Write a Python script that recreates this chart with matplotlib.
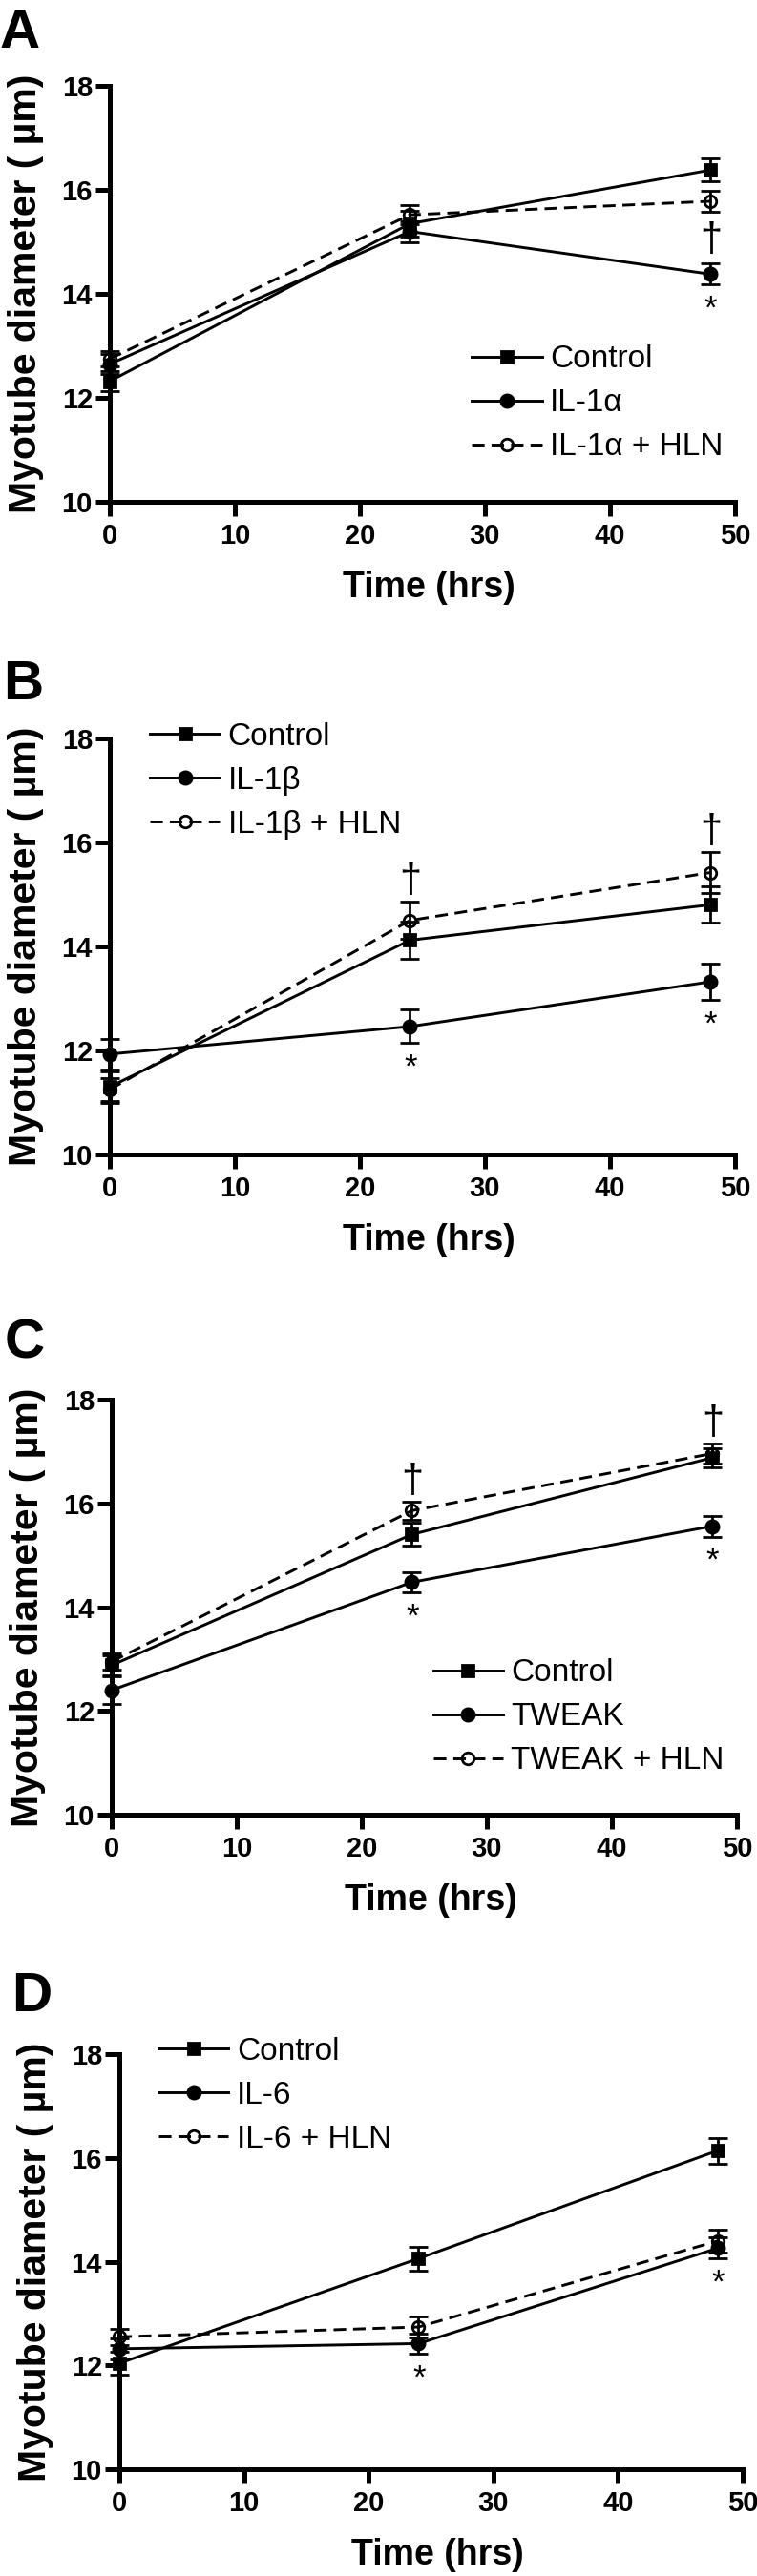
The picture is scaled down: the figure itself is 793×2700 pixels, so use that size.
import matplotlib
matplotlib.use('Agg')
import matplotlib.pyplot as plt

plt.rcParams['font.family'] = ['Liberation Sans', 'DejaVu Sans']

# ---------------- data ----------------
time_hrs = [0, 24, 48]
x_ticks = [0, 10, 20, 30, 40, 50]
y_ticks = [10, 12, 14, 16, 18]

a_labels = ['Control', 'IL-1α', 'IL-1α + HLN']
a_control = [12.32, 15.35, 16.38]
a_control_err = [0.20, 0.25, 0.22]
a_cyto = [12.65, 15.20, 14.38]
a_cyto_err = [0.20, 0.20, 0.20]
a_hln = [12.75, 15.52, 15.78]
a_hln_err = [0.15, 0.18, 0.21]
a_star_idx = [2]
a_dagger_idx = [2]

b_labels = ['Control', 'IL-1β', 'IL-1β + HLN']
b_control = [11.30, 14.12, 14.80]
b_control_err = [0.30, 0.35, 0.35]
b_cyto = [11.93, 12.46, 13.32]
b_cyto_err = [0.29, 0.32, 0.35]
b_hln = [11.25, 14.50, 15.42]
b_hln_err = [0.22, 0.36, 0.40]
b_star_idx = [1, 2]
b_dagger_idx = [1, 2]

c_labels = ['Control', 'TWEAK', 'TWEAK + HLN']
c_control = [12.88, 15.40, 16.88]
c_control_err = [0.20, 0.22, 0.18]
c_cyto = [12.40, 14.48, 15.56]
c_cyto_err = [0.27, 0.20, 0.20]
c_hln = [12.95, 15.86, 16.96]
c_hln_err = [0.15, 0.18, 0.20]
c_star_idx = [1, 2]
c_dagger_idx = [1, 2]

d_labels = ['Control', 'IL-6', 'IL-6 + HLN']
d_control = [12.04, 14.06, 16.14]
d_control_err = [0.22, 0.23, 0.25]
d_cyto = [12.32, 12.42, 14.26]
d_cyto_err = [0.20, 0.20, 0.20]
d_hln = [12.55, 12.74, 14.40]
d_hln_err = [0.15, 0.20, 0.22]
d_star_idx = [1, 2]
d_dagger_idx = []

# ---------------- layout ----------------
W, H = 793, 2700
fig = plt.figure(figsize=(W / 100, H / 100), dpi=100)

panels = [
    dict(letter='A', letter_xy=(0, 50), rect=(115, 770, 90, 526),
         labels=a_labels, means=[a_control, a_cyto, a_hln],
         errs=[a_control_err, a_cyto_err, a_hln_err],
         stars=a_star_idx, daggers=a_dagger_idx, dagger_below=True,
         leg_anchor=(0.579, 0.378)),
    dict(letter='B', letter_xy=(3, 733), rect=(115, 770, 774, 1210),
         labels=b_labels, means=[b_control, b_cyto, b_hln],
         errs=[b_control_err, b_cyto_err, b_hln_err],
         stars=b_star_idx, daggers=b_dagger_idx, dagger_below=False,
         leg_anchor=(0.064, 1.04)),
    dict(letter='C', letter_xy=(5, 1423), rect=(117, 772, 1467, 1902),
         labels=c_labels, means=[c_control, c_cyto, c_hln],
         errs=[c_control_err, c_cyto_err, c_hln_err],
         stars=c_star_idx, daggers=c_dagger_idx, dagger_below=False,
         leg_anchor=(0.514, 0.376)),
    dict(letter='D', letter_xy=(12, 2108), rect=(125, 778, 2153, 2588),
         labels=d_labels, means=[d_control, d_cyto, d_hln],
         errs=[d_control_err, d_cyto_err, d_hln_err],
         stars=d_star_idx, daggers=d_dagger_idx, dagger_below=False,
         leg_anchor=(0.063, 1.042)),
]

styles = [
    dict(linestyle='-', marker='s', markersize=8.5, markerfacecolor='black'),
    dict(linestyle='-', marker='o', markersize=9.5, markerfacecolor='black'),
    dict(linestyle=(0, (4.5, 2.5)), marker='o', markersize=9, markerfacecolor='none'),
]

for p in panels:
    l, r, t, b = p['rect']
    ax = fig.add_axes([l / W, 1 - b / H, (r - l) / W, (b - t) / H])
    handles = []
    for m, e, st in zip(p['means'], p['errs'], styles):
        eb = ax.errorbar(time_hrs, m, yerr=e, color='black', linewidth=2.1,
                         elinewidth=2.0, capsize=7.5, capthick=2.4,
                         markeredgecolor='black', markeredgewidth=2.0,
                         clip_on=False, zorder=3, **st)
        for art in eb.lines[1] + eb.lines[2]:
            art.set_clip_on(False)
        handles.append(eb[0])

    cyto, cyto_err = p['means'][1], p['errs'][1]
    hln, hln_err = p['means'][2], p['errs'][2]
    for i in p['stars']:
        ax.annotate('*', xy=(time_hrs[i], cyto[i] - cyto_err[i]),
                    xytext=(0.5, -6.5), textcoords='offset points',
                    ha='center', va='top', fontsize=25)
    for i in p['daggers']:
        if p['dagger_below']:
            ax.annotate('†', xy=(time_hrs[i], hln[i] - hln_err[i]),
                        xytext=(0.5, -29), textcoords='offset points',
                        ha='center', va='baseline', fontsize=30)
        else:
            ax.annotate('†', xy=(time_hrs[i], hln[i] + hln_err[i]),
                        xytext=(0.5, 7), textcoords='offset points',
                        ha='center', va='baseline', fontsize=30)

    ax.set_xlim(0, 50)
    ax.set_ylim(10, 18)
    ax.set_xticks(x_ticks)
    ax.set_yticks(y_ticks)
    for s in ('top', 'right'):
        ax.spines[s].set_visible(False)
    for s in ('left', 'bottom'):
        ax.spines[s].set_linewidth(3.6)
        ax.spines[s].set_capstyle('projecting')
    ax.tick_params(axis='both', direction='out', length=11, width=3.6,
                   labelsize=21)
    ax.tick_params(axis='y', pad=2)
    ax.tick_params(axis='x', pad=5)
    for lab in ax.get_xticklabels() + ax.get_yticklabels():
        lab.set_fontweight('bold')

    ax.set_ylabel('Myotube diameter ( µm)', fontsize=29.5, fontweight='bold')
    ax.yaxis.set_label_coords(-0.105, 0.5)
    ax.set_xlabel('Time (hrs)', fontsize=27, fontweight='bold')
    ax.xaxis.set_label_coords(0.51, -0.165)

    ax.legend(handles, p['labels'], loc='upper left',
              bbox_to_anchor=p['leg_anchor'], frameon=False, fontsize=24,
              handlelength=2.2, handletextpad=0.25, labelspacing=0.45,
              borderpad=0, borderaxespad=0, numpoints=1)

    lx, ly = p['letter_xy']
    fig.text(lx / W, 1 - ly / H, p['letter'], fontsize=42, fontweight='bold',
             ha='left', va='baseline')

fig.savefig('out.png', dpi=100)
